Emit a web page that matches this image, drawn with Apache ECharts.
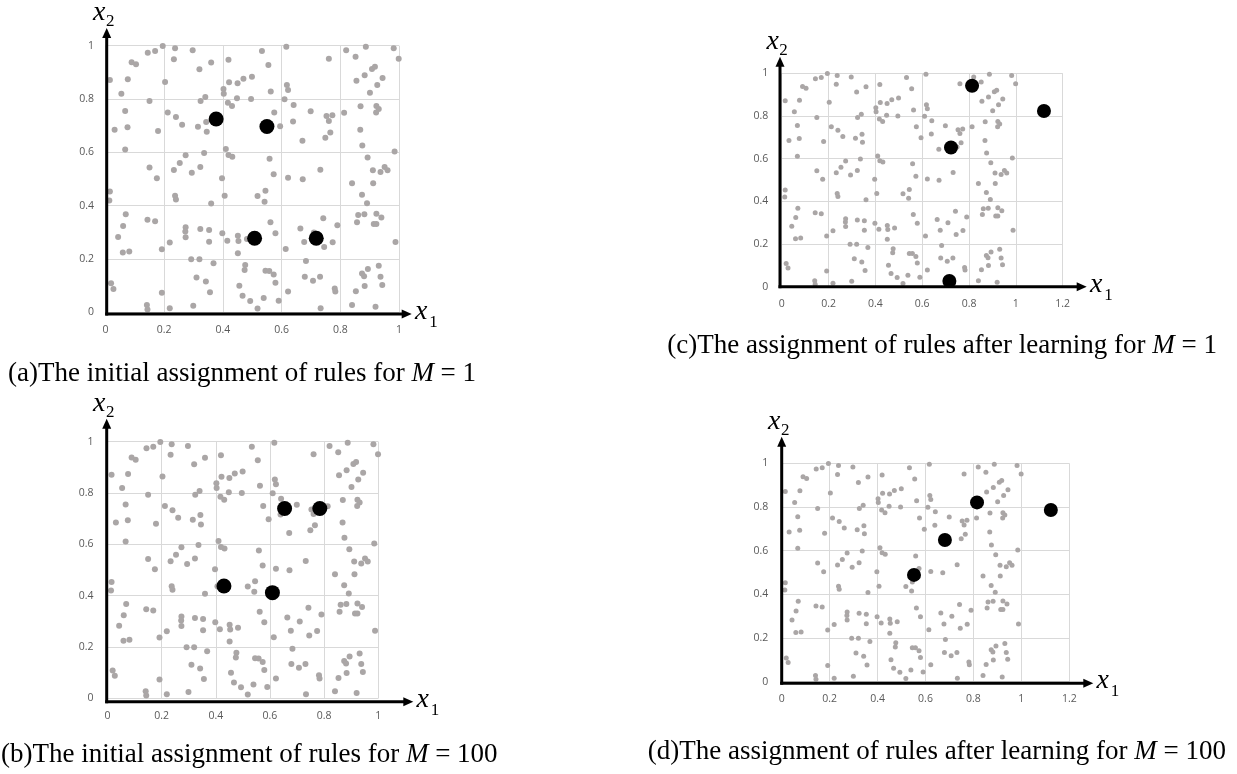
<!DOCTYPE html>
<html><head><meta charset="utf-8">
<script src="https://cdn.jsdelivr.net/npm/echarts@6/dist/echarts.min.js"></script>
<style>html,body{margin:0;padding:0;background:#fff}#c{width:1237px;height:774px}</style>
</head><body><div id="c"></div>
<script>
// Gray sample points (same in all four panels)
const grayPoints = [
[0.144,0.974],[0.169,0.980],[0.195,0.999],[0.237,0.990],[0.297,0.983],[0.233,0.949],[0.089,0.938],[0.104,0.930],[0.076,0.874],[0.015,0.871],[0.203,0.864],[0.320,0.912],[0.360,0.937],[0.419,0.947],[0.054,0.820],[0.150,0.793],[0.324,0.793],[0.340,0.808],[0.402,0.838],[0.403,0.820],[0.421,0.863],[0.450,0.859],[0.470,0.876],[0.499,0.884],[0.448,0.803],[0.496,0.800],[0.417,0.786],[0.431,0.774],[0.067,0.755],[0.212,0.750],[0.240,0.733],[0.261,0.704],[0.315,0.696],[0.343,0.714],[0.345,0.677],[0.031,0.685],[0.075,0.694],[0.179,0.680],[0.067,0.611],[0.273,0.589],[0.336,0.598],[0.410,0.613],[0.419,0.590],[0.432,0.584],[0.253,0.560],[0.233,0.534],[0.150,0.543],[0.294,0.524],[0.323,0.545],[0.175,0.503],[0.397,0.503],
[0.533,0.980],[0.616,0.996],[0.555,0.928],[0.761,0.951],[0.820,0.983],[0.852,0.959],[0.887,0.996],[0.982,0.990],[0.999,0.951],[0.563,0.828],[0.618,0.853],[0.622,0.834],[0.610,0.799],[0.641,0.778],[0.575,0.750],[0.699,0.754],[0.753,0.736],[0.773,0.739],[0.761,0.718],[0.813,0.749],[0.855,0.869],[0.883,0.889],[0.908,0.913],[0.918,0.921],[0.944,0.879],[0.926,0.853],[0.901,0.824],[0.869,0.773],[0.923,0.774],[0.931,0.763],[0.922,0.750],[0.595,0.698],[0.639,0.716],[0.671,0.644],[0.749,0.655],[0.766,0.675],[0.868,0.685],[0.875,0.626],[0.985,0.603],[0.893,0.581],[0.911,0.533],[0.937,0.526],[0.951,0.545],[0.961,0.533],[0.559,0.576],[0.573,0.518],[0.622,0.505],[0.672,0.499],[0.732,0.535],
[0.015,0.453],[0.013,0.420],[0.237,0.437],[0.240,0.423],[0.406,0.437],[0.360,0.408],[0.069,0.368],[0.143,0.347],[0.169,0.342],[0.060,0.324],[0.043,0.283],[0.059,0.225],[0.081,0.228],[0.273,0.319],[0.272,0.303],[0.273,0.282],[0.323,0.313],[0.353,0.309],[0.398,0.297],[0.415,0.269],[0.353,0.265],[0.451,0.287],[0.453,0.268],[0.482,0.275],[0.219,0.262],[0.192,0.237],[0.451,0.222],[0.292,0.199],[0.320,0.199],[0.368,0.184],[0.476,0.178],[0.474,0.159],[0.310,0.131],[0.342,0.116],[0.356,0.076],[0.019,0.109],[0.027,0.088],[0.192,0.074],[0.456,0.100],[0.467,0.062],[0.493,0.043],[0.141,0.028],[0.143,0.011],[0.219,0.016],[0.299,0.025],
[0.840,0.484],[0.912,0.484],[0.518,0.436],[0.545,0.456],[0.542,0.415],[0.874,0.441],[0.891,0.409],[0.562,0.338],[0.579,0.297],[0.664,0.315],[0.742,0.353],[0.790,0.327],[0.710,0.300],[0.677,0.264],[0.745,0.245],[0.774,0.263],[0.614,0.238],[0.861,0.365],[0.882,0.368],[0.857,0.338],[0.923,0.370],[0.940,0.356],[0.914,0.331],[0.923,0.331],[0.988,0.264],[0.545,0.156],[0.558,0.155],[0.573,0.142],[0.579,0.111],[0.683,0.193],[0.679,0.134],[0.707,0.119],[0.731,0.134],[0.622,0.078],[0.781,0.090],[0.783,0.078],[0.539,0.054],[0.518,0.015],[0.590,0.044],[0.733,0.016],[0.874,0.146],[0.881,0.136],[0.894,0.163],[0.931,0.175],[0.937,0.134],[0.943,0.103],[0.883,0.099],[0.853,0.079],[0.840,0.028],[0.920,0.021]
];
// Rule positions (black dots)
const rulesA = [[0.377,0.725],[0.550,0.697],[0.508,0.278],[0.718,0.278]];
const rulesB = [[0.654,0.740],[0.784,0.740],[0.430,0.438],[0.609,0.412]];
const rulesC = [[0.813,0.942],[0.723,0.652],[0.716,0.027],[1.120,0.823]];
const rulesD = [[0.552,0.489],[0.681,0.649],[0.815,0.821],[1.123,0.786]];
const xMaxes = [1, 1, 1.2, 1.2];
const yMax = 1;
const tickStep = 0.2;
const captionTexts = [
  ['(a)The initial assignment of rules for ', 'M', ' = 1'],
  ['(b)The initial assignment of rules for ', 'M', ' = 100'],
  ['(c)The assignment of rules after learning for ', 'M', ' = 1'],
  ['(d)The assignment of rules after learning for ', 'M', ' = 100']
];
const axisNames = [['x','1'],['x','2']];

// Layout / style (not data)
const layout = [
  {grid:{left:105.5, top:45.7, width:293.5, height:266.7}, gs:6, bs:15, yLM:11.5, arrowX:12.7, arrowY:17.7, dx:1.2, dy:1.6,
   cap:{x:8, y:374, align:'left'}},
  {grid:{left:107.5, top:441.7, width:270.8, height:256.7}, gs:6, bs:15, yLM:14, arrowX:35, arrowY:23, dx:-0.8, dy:3.3,
   cap:{x:1, y:755, align:'left'}},
  {grid:{left:781.7, top:73.3, width:281, height:213.4}, gs:5, bs:14, yLM:13.5, arrowX:24, arrowY:16.6, dx:-1.7, dy:0,
   cap:{x:1217, y:346, align:'right'}},
  {grid:{left:781.7, top:463.3, width:287.6, height:218.4}, gs:5, bs:14, yLM:13.5, arrowX:24, arrowY:26.6, dx:0, dy:1.5,
   cap:{x:1226, y:752, align:'right'}}
];
const rulesAll = [rulesA, rulesB, rulesC, rulesD];
const tickFont = {fontFamily:'Open Sans', fontSize:10.5, color:'#595959'};
const grayColor = '#aaa6a6';

const chart = echarts.init(document.getElementById('c'), null, {renderer:'canvas'});
const option = {
  animation:false,
  backgroundColor:'#fff',
  grid: layout.map(l => Object.assign({containLabel:false, outerBoundsMode:'none'}, l.grid)),
  xAxis: layout.map((l,i) => ({
    type:'value', gridIndex:i, min:0, max:xMaxes[i], interval:tickStep,
    axisLine:{show:false}, axisTick:{show:false},
    splitLine:{show:true, lineStyle:{color:'#d9d9d9', width:1}},
    axisLabel:Object.assign({margin:12, showMinLabel:true, showMaxLabel:true}, tickFont)
  })),
  yAxis: layout.map((l,i) => ({
    type:'value', gridIndex:i, min:0, max:yMax, interval:tickStep,
    axisLine:{show:false}, axisTick:{show:false},
    splitLine:{show:true, lineStyle:{color:'#d9d9d9', width:1}},
    axisLabel:Object.assign({margin:l.yLM, showMinLabel:true, showMaxLabel:true}, tickFont)
  })),
  series: []
};
layout.forEach((l,i) => {
  option.series.push({type:'scatter', xAxisIndex:i, yAxisIndex:i, data:grayPoints, symbolSize:l.gs,
    itemStyle:{color:grayColor, opacity:1}, z:2, silent:true});
  option.series.push({type:'scatter', xAxisIndex:i, yAxisIndex:i, data:rulesAll[i], symbolSize:l.bs,
    itemStyle:{color:'#000', opacity:1}, z:3, clip:false, silent:true});
});
chart.setOption(option);

// Axis arrows, axis names and captions derived from axis positions
const graphics = [];
layout.forEach((l,i) => {
  const o = chart.convertToPixel({gridIndex:i}, [0,0]);
  const t = chart.convertToPixel({gridIndex:i}, [0,yMax]);
  const r = chart.convertToPixel({gridIndex:i}, [xMaxes[i],0]);
  const ax = o[0] + l.dx, ay = o[1] + l.dy;
  const tipY = t[1] - l.arrowY, endX = r[0] + l.arrowX;
  graphics.push({type:'line', shape:{x1:ax, y1:ay+1.5, x2:ax, y2:tipY+8}, style:{stroke:'#000', lineWidth:3}, z:10});
  graphics.push({type:'polygon', shape:{points:[[ax,tipY],[ax-4.5,tipY+10],[ax+4.5,tipY+10]]}, style:{fill:'#000'}, z:10});
  graphics.push({type:'line', shape:{x1:ax-1.5, y1:ay, x2:endX-8, y2:ay}, style:{stroke:'#000', lineWidth:3}, z:10});
  graphics.push({type:'polygon', shape:{points:[[endX,ay],[endX-10,ay-4.5],[endX-10,ay+4.5]]}, style:{fill:'#000'}, z:10});
  // x2 (vertical axis name)
  graphics.push({type:'text', x:ax-13.6, y:tipY-15, style:{text:axisNames[1][0], font:'italic 28px "Liberation Serif"', fill:'#000', verticalAlign:'middle', align:'left'}, z:10});
  graphics.push({type:'text', x:ax-0.8, y:tipY-6.5, style:{text:axisNames[1][1], font:'17px "Liberation Serif"', fill:'#000', verticalAlign:'middle', align:'left'}, z:10});
  // x1 (horizontal axis name)
  graphics.push({type:'text', x:endX+3.3, y:ay-2.5, style:{text:axisNames[0][0], font:'italic 28px "Liberation Serif"', fill:'#000', verticalAlign:'middle', align:'left'}, z:10});
  graphics.push({type:'text', x:endX+17.5, y:ay+8.5, style:{text:axisNames[0][1], font:'17px "Liberation Serif"', fill:'#000', verticalAlign:'middle', align:'left'}, z:10});
  // caption
  const c = captionTexts[i];
  graphics.push({type:'text', x:l.cap.x, y:l.cap.y, style:{
    text: c[0] + '{m|' + c[1] + '}' + c[2],
    font:'27px "Liberation Serif"', fontFamily:'Liberation Serif', fontSize:27, fill:'#000',
    verticalAlign:'middle', align:l.cap.align,
    rich:{m:{fontFamily:'Liberation Serif', fontSize:27, fontStyle:'italic', fill:'#000'}}
  }, z:10});
});
chart.setOption({graphic:graphics});
</script>
</body></html>
